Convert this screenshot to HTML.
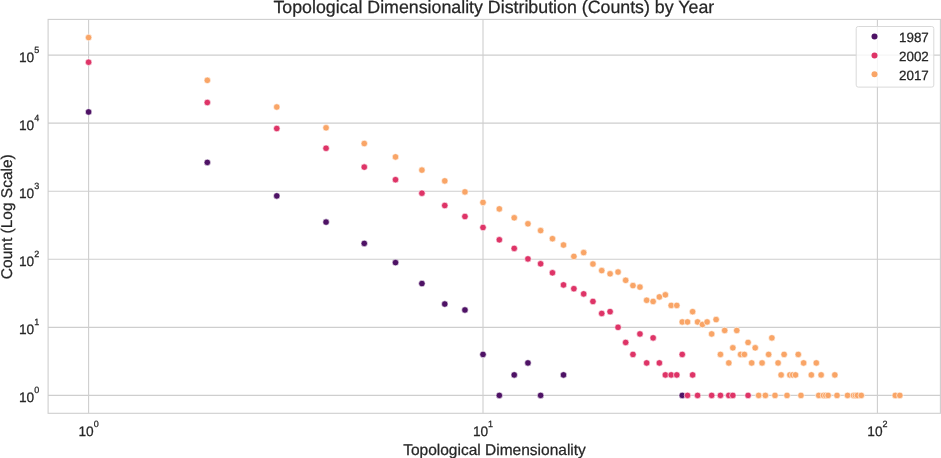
<!DOCTYPE html>
<html><head><meta charset="utf-8"><style>
html,body{margin:0;padding:0;background:#fff;}
svg{display:block;font-family:"Liberation Sans",sans-serif;text-rendering:geometricPrecision;}
</style></head><body>
<svg width="941" height="458" viewBox="0 0 941 458">
<rect width="941" height="458" fill="#fff"/>
<g stroke="#cecece" stroke-width="1.1">
<line x1="48" x2="940.5" y1="395.40" y2="395.40"/>
<line x1="48" x2="940.5" y1="327.34" y2="327.34"/>
<line x1="48" x2="940.5" y1="259.28" y2="259.28"/>
<line x1="48" x2="940.5" y1="191.22" y2="191.22"/>
<line x1="48" x2="940.5" y1="123.16" y2="123.16"/>
<line x1="48" x2="940.5" y1="55.10" y2="55.10"/>
<line x1="88.60" x2="88.60" y1="19.4" y2="413.3"/>
<line x1="483.00" x2="483.00" y1="19.4" y2="413.3"/>
<line x1="877.40" x2="877.40" y1="19.4" y2="413.3"/>
</g>
<rect x="48.1" y="19.4" width="892.3" height="393.9" fill="none" stroke="#cecece" stroke-width="1.1"/>
<g stroke="#fff" stroke-width="0.6">
<circle cx="88.60" cy="111.96" r="3.25" fill="#4e1265"/>
<circle cx="207.33" cy="162.40" r="3.25" fill="#4e1265"/>
<circle cx="276.78" cy="195.90" r="3.25" fill="#4e1265"/>
<circle cx="326.05" cy="222.10" r="3.25" fill="#4e1265"/>
<circle cx="364.27" cy="243.40" r="3.25" fill="#4e1265"/>
<circle cx="395.50" cy="262.60" r="3.25" fill="#4e1265"/>
<circle cx="421.91" cy="283.55" r="3.25" fill="#4e1265"/>
<circle cx="444.78" cy="304.03" r="3.25" fill="#4e1265"/>
<circle cx="464.95" cy="309.97" r="3.25" fill="#4e1265"/>
<circle cx="483.00" cy="354.42" r="3.25" fill="#4e1265"/>
<circle cx="499.33" cy="395.40" r="3.25" fill="#4e1265"/>
<circle cx="514.23" cy="374.91" r="3.25" fill="#4e1265"/>
<circle cx="527.94" cy="362.93" r="3.25" fill="#4e1265"/>
<circle cx="540.63" cy="395.40" r="3.25" fill="#4e1265"/>
<circle cx="563.50" cy="374.91" r="3.25" fill="#4e1265"/>
<circle cx="682.23" cy="395.40" r="3.25" fill="#4e1265"/>
<circle cx="88.60" cy="62.20" r="3.25" fill="#de3467"/>
<circle cx="207.33" cy="102.50" r="3.25" fill="#de3467"/>
<circle cx="276.78" cy="128.50" r="3.25" fill="#de3467"/>
<circle cx="326.05" cy="148.25" r="3.25" fill="#de3467"/>
<circle cx="364.27" cy="167.10" r="3.25" fill="#de3467"/>
<circle cx="395.50" cy="179.70" r="3.25" fill="#de3467"/>
<circle cx="421.91" cy="193.20" r="3.25" fill="#de3467"/>
<circle cx="444.78" cy="205.50" r="3.25" fill="#de3467"/>
<circle cx="464.95" cy="216.50" r="3.25" fill="#de3467"/>
<circle cx="483.00" cy="227.50" r="3.25" fill="#de3467"/>
<circle cx="499.33" cy="239.80" r="3.25" fill="#de3467"/>
<circle cx="514.23" cy="248.40" r="3.25" fill="#de3467"/>
<circle cx="527.94" cy="258.90" r="3.25" fill="#de3467"/>
<circle cx="540.63" cy="263.80" r="3.25" fill="#de3467"/>
<circle cx="552.45" cy="272.80" r="3.25" fill="#de3467"/>
<circle cx="563.50" cy="284.90" r="3.25" fill="#de3467"/>
<circle cx="573.89" cy="288.70" r="3.25" fill="#de3467"/>
<circle cx="583.68" cy="293.90" r="3.25" fill="#de3467"/>
<circle cx="592.94" cy="301.46" r="3.25" fill="#de3467"/>
<circle cx="601.73" cy="313.45" r="3.25" fill="#de3467"/>
<circle cx="610.08" cy="311.66" r="3.25" fill="#de3467"/>
<circle cx="618.05" cy="327.34" r="3.25" fill="#de3467"/>
<circle cx="625.67" cy="342.44" r="3.25" fill="#de3467"/>
<circle cx="632.96" cy="354.42" r="3.25" fill="#de3467"/>
<circle cx="639.95" cy="333.94" r="3.25" fill="#de3467"/>
<circle cx="646.67" cy="362.93" r="3.25" fill="#de3467"/>
<circle cx="653.13" cy="337.88" r="3.25" fill="#de3467"/>
<circle cx="659.36" cy="362.93" r="3.25" fill="#de3467"/>
<circle cx="665.37" cy="374.91" r="3.25" fill="#de3467"/>
<circle cx="671.18" cy="374.91" r="3.25" fill="#de3467"/>
<circle cx="676.79" cy="374.91" r="3.25" fill="#de3467"/>
<circle cx="682.23" cy="354.42" r="3.25" fill="#de3467"/>
<circle cx="687.50" cy="395.40" r="3.25" fill="#de3467"/>
<circle cx="692.62" cy="374.91" r="3.25" fill="#de3467"/>
<circle cx="697.58" cy="395.40" r="3.25" fill="#de3467"/>
<circle cx="711.67" cy="395.40" r="3.25" fill="#de3467"/>
<circle cx="720.45" cy="395.40" r="3.25" fill="#de3467"/>
<circle cx="728.81" cy="395.40" r="3.25" fill="#de3467"/>
<circle cx="732.84" cy="395.40" r="3.25" fill="#de3467"/>
<circle cx="748.08" cy="395.40" r="3.25" fill="#de3467"/>
<circle cx="88.60" cy="37.55" r="3.25" fill="#f9a567"/>
<circle cx="207.33" cy="80.30" r="3.25" fill="#f9a567"/>
<circle cx="276.78" cy="107.00" r="3.25" fill="#f9a567"/>
<circle cx="326.05" cy="127.80" r="3.25" fill="#f9a567"/>
<circle cx="364.27" cy="143.50" r="3.25" fill="#f9a567"/>
<circle cx="395.50" cy="156.90" r="3.25" fill="#f9a567"/>
<circle cx="421.91" cy="170.10" r="3.25" fill="#f9a567"/>
<circle cx="444.78" cy="180.90" r="3.25" fill="#f9a567"/>
<circle cx="464.95" cy="191.90" r="3.25" fill="#f9a567"/>
<circle cx="483.00" cy="202.40" r="3.25" fill="#f9a567"/>
<circle cx="499.33" cy="208.90" r="3.25" fill="#f9a567"/>
<circle cx="514.23" cy="217.80" r="3.25" fill="#f9a567"/>
<circle cx="527.94" cy="223.80" r="3.25" fill="#f9a567"/>
<circle cx="540.63" cy="230.60" r="3.25" fill="#f9a567"/>
<circle cx="552.45" cy="238.70" r="3.25" fill="#f9a567"/>
<circle cx="563.50" cy="245.00" r="3.25" fill="#f9a567"/>
<circle cx="573.89" cy="256.40" r="3.25" fill="#f9a567"/>
<circle cx="583.68" cy="252.60" r="3.25" fill="#f9a567"/>
<circle cx="592.94" cy="264.00" r="3.25" fill="#f9a567"/>
<circle cx="601.73" cy="270.60" r="3.25" fill="#f9a567"/>
<circle cx="610.08" cy="273.80" r="3.25" fill="#f9a567"/>
<circle cx="618.05" cy="272.00" r="3.25" fill="#f9a567"/>
<circle cx="625.67" cy="280.30" r="3.25" fill="#f9a567"/>
<circle cx="632.96" cy="285.60" r="3.25" fill="#f9a567"/>
<circle cx="639.95" cy="287.10" r="3.25" fill="#f9a567"/>
<circle cx="646.67" cy="300.26" r="3.25" fill="#f9a567"/>
<circle cx="653.13" cy="301.46" r="3.25" fill="#f9a567"/>
<circle cx="659.36" cy="296.91" r="3.25" fill="#f9a567"/>
<circle cx="665.37" cy="294.87" r="3.25" fill="#f9a567"/>
<circle cx="671.18" cy="305.41" r="3.25" fill="#f9a567"/>
<circle cx="676.79" cy="305.41" r="3.25" fill="#f9a567"/>
<circle cx="682.23" cy="321.95" r="3.25" fill="#f9a567"/>
<circle cx="687.50" cy="321.95" r="3.25" fill="#f9a567"/>
<circle cx="692.62" cy="311.66" r="3.25" fill="#f9a567"/>
<circle cx="697.58" cy="321.95" r="3.25" fill="#f9a567"/>
<circle cx="702.41" cy="324.52" r="3.25" fill="#f9a567"/>
<circle cx="707.10" cy="321.95" r="3.25" fill="#f9a567"/>
<circle cx="711.67" cy="333.94" r="3.25" fill="#f9a567"/>
<circle cx="716.12" cy="319.59" r="3.25" fill="#f9a567"/>
<circle cx="720.45" cy="354.42" r="3.25" fill="#f9a567"/>
<circle cx="724.68" cy="330.45" r="3.25" fill="#f9a567"/>
<circle cx="728.81" cy="362.93" r="3.25" fill="#f9a567"/>
<circle cx="732.84" cy="347.83" r="3.25" fill="#f9a567"/>
<circle cx="736.78" cy="330.45" r="3.25" fill="#f9a567"/>
<circle cx="740.63" cy="354.42" r="3.25" fill="#f9a567"/>
<circle cx="744.39" cy="354.42" r="3.25" fill="#f9a567"/>
<circle cx="748.08" cy="342.44" r="3.25" fill="#f9a567"/>
<circle cx="751.68" cy="362.93" r="3.25" fill="#f9a567"/>
<circle cx="755.21" cy="347.83" r="3.25" fill="#f9a567"/>
<circle cx="758.67" cy="395.40" r="3.25" fill="#f9a567"/>
<circle cx="762.07" cy="362.93" r="3.25" fill="#f9a567"/>
<circle cx="765.39" cy="395.40" r="3.25" fill="#f9a567"/>
<circle cx="768.65" cy="354.42" r="3.25" fill="#f9a567"/>
<circle cx="771.86" cy="337.88" r="3.25" fill="#f9a567"/>
<circle cx="775.00" cy="395.40" r="3.25" fill="#f9a567"/>
<circle cx="778.09" cy="362.93" r="3.25" fill="#f9a567"/>
<circle cx="781.12" cy="374.91" r="3.25" fill="#f9a567"/>
<circle cx="784.10" cy="354.42" r="3.25" fill="#f9a567"/>
<circle cx="787.02" cy="395.40" r="3.25" fill="#f9a567"/>
<circle cx="789.90" cy="374.91" r="3.25" fill="#f9a567"/>
<circle cx="792.73" cy="374.91" r="3.25" fill="#f9a567"/>
<circle cx="795.52" cy="374.91" r="3.25" fill="#f9a567"/>
<circle cx="798.26" cy="354.42" r="3.25" fill="#f9a567"/>
<circle cx="800.96" cy="395.40" r="3.25" fill="#f9a567"/>
<circle cx="803.61" cy="362.93" r="3.25" fill="#f9a567"/>
<circle cx="811.34" cy="374.91" r="3.25" fill="#f9a567"/>
<circle cx="816.31" cy="362.93" r="3.25" fill="#f9a567"/>
<circle cx="818.74" cy="395.40" r="3.25" fill="#f9a567"/>
<circle cx="821.13" cy="374.91" r="3.25" fill="#f9a567"/>
<circle cx="823.49" cy="395.40" r="3.25" fill="#f9a567"/>
<circle cx="825.82" cy="395.40" r="3.25" fill="#f9a567"/>
<circle cx="828.12" cy="395.40" r="3.25" fill="#f9a567"/>
<circle cx="834.84" cy="374.91" r="3.25" fill="#f9a567"/>
<circle cx="837.02" cy="395.40" r="3.25" fill="#f9a567"/>
<circle cx="847.54" cy="395.40" r="3.25" fill="#f9a567"/>
<circle cx="853.55" cy="395.40" r="3.25" fill="#f9a567"/>
<circle cx="855.50" cy="395.40" r="3.25" fill="#f9a567"/>
<circle cx="857.44" cy="395.40" r="3.25" fill="#f9a567"/>
<circle cx="861.25" cy="395.40" r="3.25" fill="#f9a567"/>
<circle cx="895.28" cy="395.40" r="3.25" fill="#f9a567"/>
<circle cx="899.84" cy="395.40" r="3.25" fill="#f9a567"/>
</g>
<g fill="#262626" stroke="#262626" stroke-width="0.25" opacity="0.999">
<text x="493.8" y="12.8" text-anchor="middle" font-size="17.8">Topological Dimensionality Distribution (Counts) by Year</text>
<text x="494.5" y="454.5" text-anchor="middle" font-size="15.5">Topological Dimensionality</text>
<text transform="translate(11.6,216.7) rotate(-90)" text-anchor="middle" font-size="15.5">Count (Log Scale)</text>
<text x="34.20" y="402.00" text-anchor="end" font-size="13.7">10</text><text x="34.20" y="393.10" font-size="9.0">0</text>
<text x="34.20" y="333.94" text-anchor="end" font-size="13.7">10</text><text x="34.20" y="325.04" font-size="9.0">1</text>
<text x="34.20" y="265.88" text-anchor="end" font-size="13.7">10</text><text x="34.20" y="256.98" font-size="9.0">2</text>
<text x="34.20" y="197.82" text-anchor="end" font-size="13.7">10</text><text x="34.20" y="188.92" font-size="9.0">3</text>
<text x="34.20" y="129.76" text-anchor="end" font-size="13.7">10</text><text x="34.20" y="120.86" font-size="9.0">4</text>
<text x="34.20" y="61.70" text-anchor="end" font-size="13.7">10</text><text x="34.20" y="52.80" font-size="9.0">5</text>
<text x="78.48" y="435.8" font-size="13.7">10</text><text x="93.72" y="426.50" font-size="9.0">0</text>
<text x="472.88" y="435.8" font-size="13.7">10</text><text x="488.12" y="426.50" font-size="9.0">1</text>
<text x="867.28" y="435.8" font-size="13.7">10</text><text x="882.52" y="426.50" font-size="9.0">2</text>
</g>
<g>
<rect x="856.2" y="26.5" width="77.6" height="60.6" rx="2" ry="2" fill="#fff" fill-opacity="0.8" stroke="#d9d9d9" stroke-width="1"/>
<circle cx="874.5" cy="36.4" r="3.0" fill="#4e1265"/>
<circle cx="874.5" cy="55.4" r="3.0" fill="#de3467"/>
<circle cx="874.5" cy="74.3" r="3.0" fill="#f9a567"/>
<g fill="#262626" stroke="#262626" stroke-width="0.25" font-size="13.4" opacity="0.999">
<text x="899" y="41.5">1987</text>
<text x="899" y="60.5">2002</text>
<text x="899" y="79.5">2017</text>
</g>
</g>
</svg>
</body></html>
